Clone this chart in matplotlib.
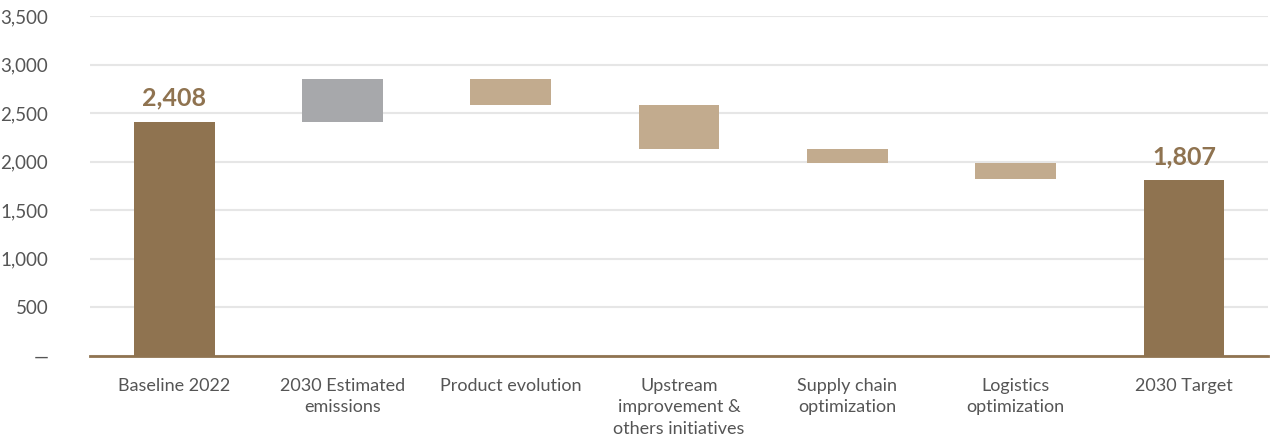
import numpy as np
import matplotlib.pyplot as plt

# waterfall data (kt CO2e)
categories = ['Baseline 2022', '2030 Estimated\nemissions', 'Product evolution',
              'Upstream\nimprovement &\nothers initiatives', 'Supply chain\noptimization',
              'Logistics\noptimization', '2030 Target']
bottoms = [0, 2408, 2585, 2132, 1988, 1823, 0]
tops = [2408, 2850, 2850, 2585, 2132, 1988, 1807]
kinds = ['total', 'increase', 'decrease', 'decrease', 'decrease', 'decrease', 'total']
yticks = [0, 500, 1000, 1500, 2000, 2500, 3000, 3500]
ytick_labels = ['—', '500', '1,000', '1,500', '2,000', '2,500', '3,000', '3,500']

colors = {'total': '#8f7350', 'increase': '#a7a8ab', 'decrease': '#c2ab8e'}

plt.rcParams['font.family'] = ['Lato', 'DejaVu Sans']

fig = plt.figure(figsize=(12.71, 4.41), dpi=100)
ax = fig.add_axes([0.0708, 0.1927, 0.927, 0.771])

x = np.arange(len(categories))
heights = np.array(tops) - np.array(bottoms)
ax.bar(x, heights, bottom=bottoms, width=0.48,
       color=[colors[k] for k in kinds], zorder=3)

# value labels on the totals
for i, k in enumerate(kinds):
    if k == 'total':
        ax.annotate(f'{tops[i]:,}', (x[i], tops[i]), xytext=(0, 9),
                    textcoords='offset points', ha='center', va='bottom',
                    fontsize=18, fontweight='bold', color='#8f7350')

ax.set_xlim(-0.5, len(categories) - 0.5)
ax.set_ylim(0, 3500)
ax.set_yticks(yticks)
ax.set_yticklabels(ytick_labels)
ax.set_xticks(x)
ax.set_xticklabels(categories, fontsize=13, color='#555555', linespacing=1.45)

ax.tick_params(axis='y', length=0, pad=30, labelsize=13.5, labelcolor='#555555')
ax.tick_params(axis='x', length=0, pad=15.5)
for lbl in ax.get_yticklabels():
    lbl.set_horizontalalignment('right')

ax.grid(axis='y', color='#e6e6e6', linewidth=1.5, zorder=0)
for s in ['top', 'right', 'left']:
    ax.spines[s].set_visible(False)
ax.spines['bottom'].set_color('#8f7350')
ax.spines['bottom'].set_linewidth(2)
ax.spines['bottom'].set_zorder(4)

plt.savefig('out.png', dpi=100)
